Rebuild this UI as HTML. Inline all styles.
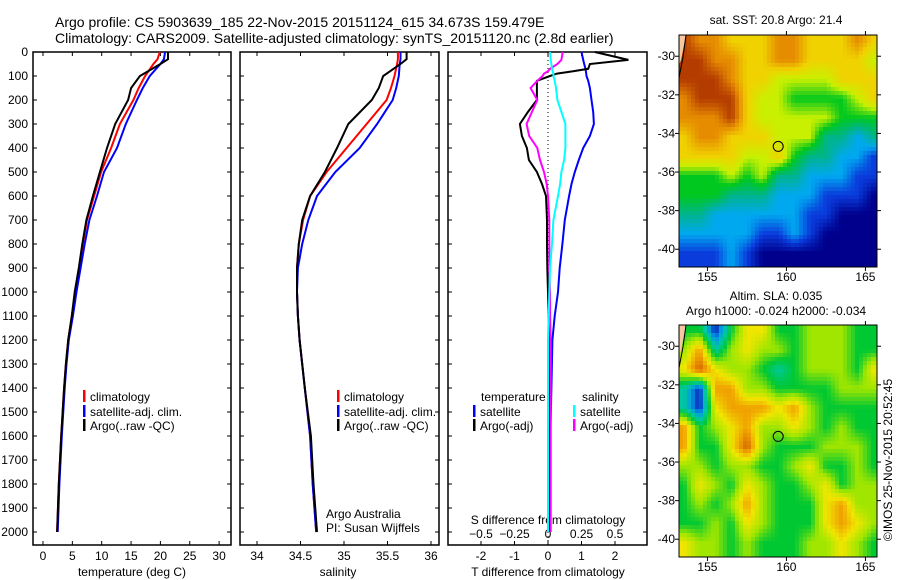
<!DOCTYPE html>
<html><head><meta charset="utf-8"><style>
html,body{margin:0;padding:0;background:#fff}
svg{display:block;font-family:"Liberation Sans",sans-serif}
text{fill:#000}
</style></head><body>
<svg id="c" width="900" height="580" viewBox="0 0 900 580">
<text x="55" y="27" font-size="14">Argo profile: CS 5903639_185 22-Nov-2015 20151124_615 34.673S 159.479E</text>
<text x="55" y="43" font-size="14">Climatology: CARS2009. Satellite-adjusted climatology: synTS_20151120.nc (2.8d earlier)</text>
<g id="g"></g>
</svg>
<script>
// ---- data ----
const depthTicks=[0,100,200,300,400,500,600,700,800,900,1000,1100,1200,1300,1400,1500,1600,1700,1800,1900,2000];
const tempTicks=[0,5,10,15,20,25,30];
const salTicks=[34,34.5,35,35.5,36];
const tdiffTicks=[-2,-1,0,1,2];
const sdiffTicks=[-0.5,-0.25,0,0.25,0.5];
const depths=[0,30,50,100,150,200,300,400,500,600,700,800,900,1000,1100,1200,1300,1400,1600,1800,2000];
const tempClim=[19.9,19.5,18.8,17.4,16.3,15.4,13.1,11.6,9.9,8.7,7.5,6.8,6.2,5.5,4.9,4.3,3.9,3.6,3.1,2.7,2.4];
const tempSat=[20.8,20.6,20.0,18.2,17.0,16.0,14.1,12.6,10.4,9.2,7.9,7.1,6.4,5.7,5.1,4.4,4.0,3.7,3.2,2.8,2.5];
const tempArgo=[21.3,21.3,20.0,16.5,15.0,14.5,12.3,10.9,9.7,8.5,7.4,6.7,6.1,5.4,4.9,4.3,3.9,3.6,3.1,2.7,2.4];
const salClim=[35.62,35.62,35.61,35.58,35.54,35.49,35.26,35.03,34.80,34.61,34.53,34.48,34.46,34.46,34.47,34.49,34.52,34.55,34.61,34.64,34.68];
const salSat=[35.65,35.65,35.64,35.63,35.60,35.56,35.38,35.18,34.90,34.69,34.59,34.52,34.47,34.46,34.47,34.49,34.52,34.55,34.61,34.64,34.68];
const salArgo=[35.72,35.72,35.65,35.45,35.40,35.32,35.05,34.92,34.78,34.61,34.52,34.48,34.46,34.46,34.47,34.49,34.52,34.55,34.62,34.65,34.69];
const diffDepths=[0,33,50,70,80,90,100,120,150,200,250,300,350,400,450,500,550,600,700,800,900,1000,1100,1200,1400,1600,1800,2000];
const tdiffSat=[1.0,1.05,1.08,1.12,1.13,1.14,1.15,1.2,1.25,1.3,1.35,1.37,1.25,1.05,0.92,0.8,0.7,0.63,0.5,0.43,0.35,0.3,0.2,0.13,0.1,0.07,0.06,0.06];
const tdiffArgo=[1.4,2.4,1.25,1.2,0.75,0.27,0.06,-0.33,-0.33,-0.33,-0.6,-0.84,-0.78,-0.63,-0.57,-0.33,-0.18,-0.06,-0.03,-0.03,-0.02,0.0,0.02,0.02,0.03,0.02,0.02,0.02];
const sdiffSat=[0.015,0.02,0.025,0.03,0.035,0.04,0.04,0.05,0.06,0.07,0.1,0.13,0.13,0.13,0.12,0.1,0.09,0.075,0.04,0.03,0.015,0.01,0.005,0.0,0.0,0.0,0.0,0.0];
const sdiffArgo=[0.11,0.1,0.07,0.015,0.0,-0.03,-0.04,-0.08,-0.13,-0.08,-0.12,-0.16,-0.14,-0.08,-0.06,-0.03,-0.01,0.0,0.01,0.01,0.01,0.015,0.015,0.02,0.02,0.02,0.02,0.02];
const lonTicks=[155,160,165];
const latTicks=[-30,-32,-34,-36,-38,-40];
const sstGrid=[
[8,7,7,6,6,6,7,7,6,6,6,7,6],
[8,8,7,7,6,6,7,7,6,6,6,6,5],
[8,8,8,7,6,6,5,5,5,5,6,6,6],
[7,8,8,8,6,5,5,4,4,4,4,5,6],
[7,7,7,8,6,5,5,5,5,5,4,4,4],
[6,7,7,6,6,6,5,5,5,3,3,2,3],
[6,6,6,6,5,5,6,4,3,3,2,2,1],
[4,4,4,5,4,5,3,3,2,2,2,1,1],
[4,4,4,3,3,3,2,2,2,1,1,1,0],
[3,3,2,2,2,2,2,2,1,1,0,0,0],
[2,2,2,2,2,1,1,2,1,0,0,0,0],
[1,1,1,2,1,0,0,0,0,0,0,0,0]];
const slaGrid=[
[3,3,0,3,5,5,3,3,4,4,4,3,3],
[4,6,2,4,5,4,4,3,4,4,4,3,3],
[5,7,5,4,4,3,2,3,4,4,4,3,5],
[2,0,6,6,4,4,3,3,3,3,4,4,4],
[2,0,5,6,6,6,5,6,4,3,3,3,3],
[6,3,4,5,6,4,4,5,4,3,4,3,3],
[6,3,3,5,7,4,3,3,3,4,4,4,3],
[4,4,3,4,4,3,3,4,5,3,3,4,3],
[3,5,4,3,5,4,3,3,4,5,3,4,4],
[3,4,3,4,6,4,3,3,3,5,6,4,4],
[3,3,4,3,5,4,3,3,3,5,6,5,4],
[5,4,4,3,4,3,3,3,4,4,5,4,3]];
const argoLon=159.479, argoLat=-34.673;

// ---- drawing ----
const NS="http://www.w3.org/2000/svg";
const G=document.getElementById('g');
function mk(tag,at,parent){const e=document.createElementNS(NS,tag);for(const k in at)e.setAttribute(k,at[k]);(parent||G).appendChild(e);return e;}
function txt(x,y,s,size,anchor,name){const e=mk('text',{x:x,y:y,'font-size':size||12,'text-anchor':anchor||'start'});e.textContent=s;


return e;}
const yD=d=>52+d*0.24;
const xT=v=>43+v*5.87;
const xS=v=>257+(v-34)*87;
const xTD=v=>548+v*33.5;
const xSD=v=>548+v*134;
function frame(x0,x1,name){const r=mk('rect',{x:x0,y:52,width:x1-x0,height:493,fill:'none',stroke:'#000','stroke-width':1.5});

}
function line(xs,ds,fx,col,name){const p=mk('polyline',{points:xs.map((v,i)=>fx(v).toFixed(1)+','+yD(ds[i]).toFixed(1)).join(' '),fill:'none',stroke:col,'stroke-width':2});

}
function yticks(x0,x1){depthTicks.forEach(d=>{mk('line',{x1:x0,x2:x0+4,y1:yD(d),y2:yD(d),stroke:'#000'});mk('line',{x1:x1,x2:x1-4,y1:yD(d),y2:yD(d),stroke:'#000'});});}
function xticks(vals,fx,labY,fmt,name){vals.forEach(v=>{const x=fx(v);mk('line',{x1:x,x2:x,y1:52,y2:56,stroke:'#000'});mk('line',{x1:x,x2:x,y1:545,y2:541,stroke:'#000'});if(labY)txt(x,labY,fmt?fmt(v):String(v),12,'middle',name);});}
function legendRow(x,y,col,s,name){const r=mk('rect',{x:x,y:y-7,width:2.5,height:12,fill:col});


txt(x+7,y+4,s,12,'start',name);}

// panel 1 temperature
frame(33,231,'temperature-panel');
yticks(33,231);
depthTicks.forEach(d=>txt(28,yD(d)+4,String(d),12,'end','depth-tick-label'));
xticks(tempTicks,xT,560,null,'temperature-tick-label');
txt(132,576,'temperature (deg C)',12,'middle','temperature-axis-title');
line(tempClim,depths,xT,'#f00','temperature-climatology-line');
line(tempSat,depths,xT,'#00f','temperature-satellite-line');
line(tempArgo,depths,xT,'#000','temperature-argo-line');
legendRow(83,397,'#f00','climatology','legend-climatology');
legendRow(83,412,'#00f','satellite-adj. clim.','legend-satellite-adj');
legendRow(83,426,'#000','Argo(..raw -QC)','legend-argo');

// panel 2 salinity
frame(240,439,'salinity-panel');
yticks(240,439);
xticks(salTicks,xS,560,null,'salinity-tick-label');
txt(338,576,'salinity',12,'middle','salinity-axis-title');
line(salClim,depths,xS,'#f00','salinity-climatology-line');
line(salSat,depths,xS,'#00f','salinity-satellite-line');
line(salArgo,depths,xS,'#000','salinity-argo-line');
legendRow(337,397,'#f00','climatology','legend-climatology-2');
legendRow(337,412,'#00f','satellite-adj. clim.','legend-satellite-adj-2');
legendRow(337,426,'#000','Argo(..raw -QC)','legend-argo-2');
txt(326,518,'Argo Australia',12,'start','credit-argo-australia');
txt(326,532,'PI: Susan Wijffels',12,'start','credit-pi');

// panel 3 differences
frame(448,647,'difference-panel');
yticks(448,647);
xticks(tdiffTicks,xTD,560,null,'t-diff-tick-label');
sdiffTicks.forEach(v=>txt(xSD(v),538,String(v).replace('-','\u2212'),12,'middle','s-diff-tick-label'));
txt(548,524,'S difference from climatology',12,'middle','s-diff-axis-title');
txt(548,576,'T difference from climatology',12,'middle','t-diff-axis-title');
const zl=mk('line',{x1:548,x2:548,y1:52,y2:545,stroke:'#000','stroke-dasharray':'1,3'});


line(tdiffSat,diffDepths,xTD,'#00f','t-diff-satellite-line');
line(tdiffArgo,diffDepths,xTD,'#000','t-diff-argo-line');
line(sdiffArgo,diffDepths,xSD,'#f0f','s-diff-argo-line');
line(sdiffSat,diffDepths,xSD,'#0ff','s-diff-satellite-line');
txt(481,401,'temperature',12,'start','legend-temperature-heading');
legendRow(473,412,'#00f','satellite','legend-t-satellite');
legendRow(473,426,'#000','Argo(-adj)','legend-t-argo');
txt(582,401,'salinity',12,'start','legend-salinity-heading');
legendRow(573,412,'#0ff','satellite','legend-s-satellite');
legendRow(573,426,'#f0f','Argo(-adj)','legend-s-argo');

// maps
const sstCols=[[0,0,140],[10,60,220],[0,168,240],[0,180,140],[0,200,30],[200,240,0],[240,210,0],[230,140,0],[180,60,0]];
const slaCols=[[10,30,180],[0,150,230],[0,200,160],[0,200,50],[160,230,0],[240,230,0],[240,160,0],[210,100,0]];
function cmap(cols,v){v=Math.max(0,Math.min(cols.length-1,v));const i=Math.min(Math.floor(v),cols.length-2),f=v-i;
const c=cols[i].map((a,k)=>Math.round(a+(cols[i+1][k]-a)*f));return `rgb(${c[0]},${c[1]},${c[2]})`;}
function sample(grid,gx,gy){const R=grid.length,C=grid[0].length;
gx=Math.max(0,Math.min(C-1,gx));gy=Math.max(0,Math.min(R-1,gy));
const x0=Math.min(Math.floor(gx),C-2),y0=Math.min(Math.floor(gy),R-2),fx=gx-x0,fy=gy-y0;
return grid[y0][x0]*(1-fx)*(1-fy)+grid[y0][x0+1]*fx*(1-fy)+grid[y0+1][x0]*(1-fx)*fy+grid[y0+1][x0+1]*fx*fy;}
function map(y0,grid,cols,name,step){
  const lonX=l=>679+(l-153.2)*15.8, latY=a=>y0+(-28.9-a)*19.3;
  const g=mk('g',{});
  
  
  for(let px=0;px<198;px+=step){for(let py=0;py<232;py+=step){
    const lon=153.2+(px+step/2)/15.8, lat=-28.9-(py+step/2)/19.3;
    const v=sample(grid,lon-153.5,-29.2-lat);
    const cell=mk('rect',{x:679+px,y:y0+py,width:Math.min(step,198-px)+0.3,height:Math.min(step,232-py)+0.3,fill:cmap(cols,v)},g);
    
    
  }}
  mk('polygon',{points:`679,${y0} 686,${y0} 681,${y0+25} 679,${y0+30}`,fill:'#f5c8a0'},g);
  mk('polyline',{points:`686,${y0} 683,${y0+22} 679,${y0+43}`,fill:'none',stroke:'#000'},g);
  mk('rect',{x:679,y:y0,width:198,height:232,fill:'none',stroke:'#000'},g);
  lonTicks.forEach(l=>{const x=lonX(l);mk('line',{x1:x,x2:x,y1:y0,y2:y0-4,stroke:'#000'},g);mk('line',{x1:x,x2:x,y1:y0+232,y2:y0+236,stroke:'#000'},g);txt(x,y0+246,String(l),12,'middle','longitude-tick-label');});
  latTicks.forEach(a=>{const y=latY(a);mk('line',{x1:679,x2:675,y1:y,y2:y,stroke:'#000'},g);mk('line',{x1:877,x2:881,y1:y,y2:y,stroke:'#000'},g);txt(675,y+4,String(a),12,'end','latitude-tick-label');});
  const c=mk('circle',{cx:lonX(argoLon),cy:latY(argoLat),r:5,fill:'none',stroke:'#000'},g);
  
  
}
map(35,sstGrid,sstCols,'sst-map',4);
txt(776,24,'sat. SST: 20.8 Argo: 21.4',12,'middle','sst-map-title');
map(325,slaGrid,slaCols,'sla-map',4);
txt(776,300,'Altim. SLA: 0.035',12,'middle','sla-map-title');
txt(776,315,'Argo h1000: -0.024 h2000: -0.034',12,'middle','sla-map-subtitle');
const rt=txt(0,0,'\u00a9IMOS 25-Nov-2015 20:52:45',12,'middle','timestamp-credit');
rt.setAttribute('transform','translate(892,460) rotate(-90)');
</script>
</body></html>
